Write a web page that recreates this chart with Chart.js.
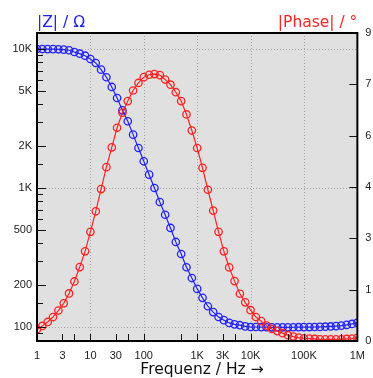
<!DOCTYPE html>
<html>
<head>
<meta charset="utf-8">
<script src="https://cdn.jsdelivr.net/npm/chart.js@4.4.1/dist/chart.umd.min.js"></script>
<style>
  html, body { margin: 0; padding: 0; background: #fff; }
  canvas { display: block; }
</style>
</head>
<body>
<canvas id="bode" width="373" height="378"></canvas>
<script>
    // Frequenz (Hz), 10 Punkte pro Dekade
    const freqs = [
        1, 1.259, 1.585, 1.995, 2.512, 3.162, 3.981, 5.012, 6.310, 7.943,
        10, 12.59, 15.85, 19.95, 25.12, 31.62, 39.81, 50.12, 63.10, 79.43,
        100, 125.9, 158.5, 199.5, 251.2, 316.2, 398.1, 501.2, 631.0, 794.3,
        1000, 1259, 1585, 1995, 2512, 3162, 3981, 5012, 6310, 7943,
        10000, 12590, 15850, 19950, 25120, 31620, 39810, 50120, 63100, 79430,
        100000, 125900, 158500, 199500, 251200, 316200, 398100, 501200, 631000, 794300,
        1000000
    ];

    // |Z| in Ohm
    const impedance = [
        10000, 9990, 9980, 9970, 9950, 9890, 9790, 9510, 9250, 8950,
        8470, 7930, 7100, 6260, 5330, 4440, 3620, 3020, 2420, 1940,
        1556, 1247, 1000, 793, 642, 516, 409, 335, 269, 225,
        188, 162, 141, 128, 118, 112, 107, 104.5, 103, 101,
        100, 100, 99.8, 99.6, 99.5, 99.5, 99.5, 99.5, 99.6, 99.7,
        99.8, 99.9, 100, 100.2, 100.5, 100.9, 101.5, 102.3, 103.5, 105.2,
        107.5
    ];

    // |Phase| in Grad
    const phase = [
        0.345, 0.44, 0.556, 0.70, 0.89, 1.10, 1.39, 1.74, 2.16, 2.62,
        3.19, 3.79, 4.44, 5.08, 5.66, 6.23, 6.67, 7.01, 7.32, 7.54,
        7.71, 7.78, 7.80, 7.77, 7.64, 7.49, 7.27, 7.01, 6.62, 6.15,
        5.64, 5.06, 4.42, 3.81, 3.19, 2.62, 2.15, 1.75, 1.38, 1.13,
        0.90, 0.70, 0.58, 0.45, 0.35, 0.29, 0.23, 0.17, 0.13, 0.10,
        0.08, 0.07, 0.06, 0.05, 0.05, 0.05, 0.05, 0.05, 0.06, 0.07,
        0.09
    ];

    // Achsenbeschriftungen
    const xTickValues = [1, 3, 10, 30, 100, 1000, 3000, 10000, 100000, 1000000];
    const xTickLabels = ["1", "3", "10", "30", "100", "1K", "3K", "10K", "100K", "1M"];
    const xMinorTicks = [5, 50, 500, 5000, 50000, 500000];
    const xGridValues = [10, 100, 1000, 10000, 100000];

    const zTickValues = [100, 200, 500, 1000, 2000, 5000, 10000];
    const zTickLabels = ["100", "200", "500", "1K", "2K", "5K", "10K"];
    const zMinorTicks = [90, 150, 300, 400, 600, 700, 800, 900, 1500, 3000, 4000, 6000, 7000, 8000, 9000];
    const zGridValues = [100, 1000, 10000];

    const phaseTickValues = [0, 1.5, 3, 4.5, 6, 7.5, 9];
    const phaseTickLabels = ["0", "1", "3", "4", "6", "7", "9"];

    const BLUE = "rgb(34, 34, 255)";
    const RED = "rgb(255, 34, 34)";

    // Hintergrund, Gitter, Rahmen, Ticks und Titel
    const bodePlugin = {
        id: "bode",
        beforeDatasetsDraw(chart) {
            const { ctx, chartArea: a, scales } = chart;
            ctx.save();
            ctx.fillStyle = "#e0e0e0";
            ctx.fillRect(a.left, a.top, a.right - a.left, a.bottom - a.top);

            ctx.strokeStyle = "#a4a4a4";
            ctx.lineWidth = 1;
            ctx.setLineDash([1, 2]);
            xGridValues.forEach(v => {
                const x = Math.round(scales.x.getPixelForValue(v)) + 0.5;
                ctx.beginPath(); ctx.moveTo(x, a.top); ctx.lineTo(x, a.bottom); ctx.stroke();
            });
            zGridValues.forEach(v => {
                const y = Math.round(scales.y.getPixelForValue(v)) + 0.5;
                ctx.beginPath(); ctx.moveTo(a.left, y); ctx.lineTo(a.right, y); ctx.stroke();
            });
            ctx.restore();
        },
        afterDatasetsDraw(chart) {
            const { ctx, chartArea: a, scales } = chart;
            ctx.save();
            ctx.strokeStyle = "#111";
            ctx.lineWidth = 1;

            // Ticks nach innen
            const vTick = (v, len) => {
                const x = Math.round(scales.x.getPixelForValue(v)) + 0.5;
                ctx.beginPath(); ctx.moveTo(x, a.bottom); ctx.lineTo(x, a.bottom - len); ctx.stroke();
            };
            xTickValues.forEach(v => vTick(v, 7));
            xMinorTicks.forEach(v => vTick(v, 7));

            const lTick = (v, len) => {
                const y = Math.round(scales.y.getPixelForValue(v)) + 0.5;
                ctx.beginPath(); ctx.moveTo(a.left, y); ctx.lineTo(a.left + len, y); ctx.stroke();
            };
            zTickValues.forEach(v => lTick(v, 9));
            zMinorTicks.forEach(v => lTick(v, 6));

            phaseTickValues.forEach(v => {
                const y = Math.round(scales.y2.getPixelForValue(v)) + 0.5;
                ctx.beginPath(); ctx.moveTo(a.right, y); ctx.lineTo(a.right - 8, y); ctx.stroke();
            });

            // Rahmen
            ctx.lineWidth = 2;
            ctx.strokeStyle = "#000";
            ctx.strokeRect(a.left, a.top, a.right - a.left, a.bottom - a.top);

            // Titel
            ctx.font = "15.5px 'DejaVu Sans'";
            ctx.textBaseline = "alphabetic";
            ctx.fillStyle = BLUE;
            ctx.textAlign = "left";
            ctx.fillText("|Z| / Ω", a.left, 27);
            ctx.fillStyle = RED;
            ctx.textAlign = "right";
            ctx.fillText("|Phase| / °", a.right, 27);
            ctx.fillStyle = "#111";
            ctx.textAlign = "center";
            ctx.fillText("Frequenz / Hz →", 202, 374);
            ctx.restore();
        }
    };

    const tickFont = { family: "'Liberation Sans', Arial, sans-serif", size: 11 };

    const ctx = document.getElementById("bode").getContext("2d");
    new Chart(ctx, {
        type: "line",
        data: {
            datasets: [
                {
                    label: "|Phase|",
                    data: freqs.map((f, i) => ({ x: f, y: phase[i] })),
                    yAxisID: "y2",
                    borderColor: RED,
                    borderWidth: 1.2,
                    pointRadius: 3.7,
                    pointBorderWidth: 1.3,
                    pointBorderColor: RED,
                    pointBackgroundColor: "rgba(0,0,0,0)",
                    tension: 0
                },
                {
                    label: "|Z|",
                    data: freqs.map((f, i) => ({ x: f, y: impedance[i] })),
                    yAxisID: "y",
                    borderColor: BLUE,
                    borderWidth: 1.2,
                    pointRadius: 3.7,
                    pointBorderWidth: 1.3,
                    pointBorderColor: BLUE,
                    pointBackgroundColor: "rgba(0,0,0,0)",
                    tension: 0
                }
            ]
        },
        options: {
            responsive: false,
            animation: false,
            devicePixelRatio: 1,
            layout: { padding: { top: 33, left: 0, right: 0, bottom: 0 } },
            plugins: {
                legend: { display: false },
                tooltip: { enabled: false }
            },
            scales: {
                x: {
                    type: "logarithmic",
                    position: "bottom",
                    min: 1,
                    max: 1000000,
                    grid: { display: false, drawTicks: false },
                    border: { display: false },
                    afterBuildTicks: s => { s.ticks = xTickValues.map(v => ({ value: v })); },
                    afterFit: s => { s.height = 37; },
                    ticks: {
                        autoSkip: false,
                        maxRotation: 0,
                        padding: 8,
                        color: "#222",
                        font: tickFont,
                        callback: (v, i) => xTickLabels[i]
                    }
                },
                y: {
                    type: "logarithmic",
                    position: "left",
                    min: 79.3,
                    max: 13030,
                    grid: { display: false, drawTicks: false },
                    border: { display: false },
                    afterBuildTicks: s => { s.ticks = zTickValues.map(v => ({ value: v })); },
                    afterFit: s => { s.width = 37; },
                    ticks: {
                        autoSkip: false,
                        padding: 5,
                        color: "#222",
                        font: tickFont,
                        callback: (v, i) => zTickLabels[i]
                    }
                },
                y2: {
                    type: "linear",
                    position: "right",
                    min: 0,
                    max: 9,
                    grid: { display: false, drawTicks: false },
                    border: { display: false },
                    afterBuildTicks: s => { s.ticks = phaseTickValues.map(v => ({ value: v })); },
                    afterFit: s => { s.width = 14; },
                    ticks: {
                        autoSkip: false,
                        padding: 8,
                        color: "#222",
                        font: tickFont,
                        callback: (v, i) => phaseTickLabels[i]
                    }
                }
            }
        },
        plugins: [bodePlugin]
    });
</script>
</body>
</html>
